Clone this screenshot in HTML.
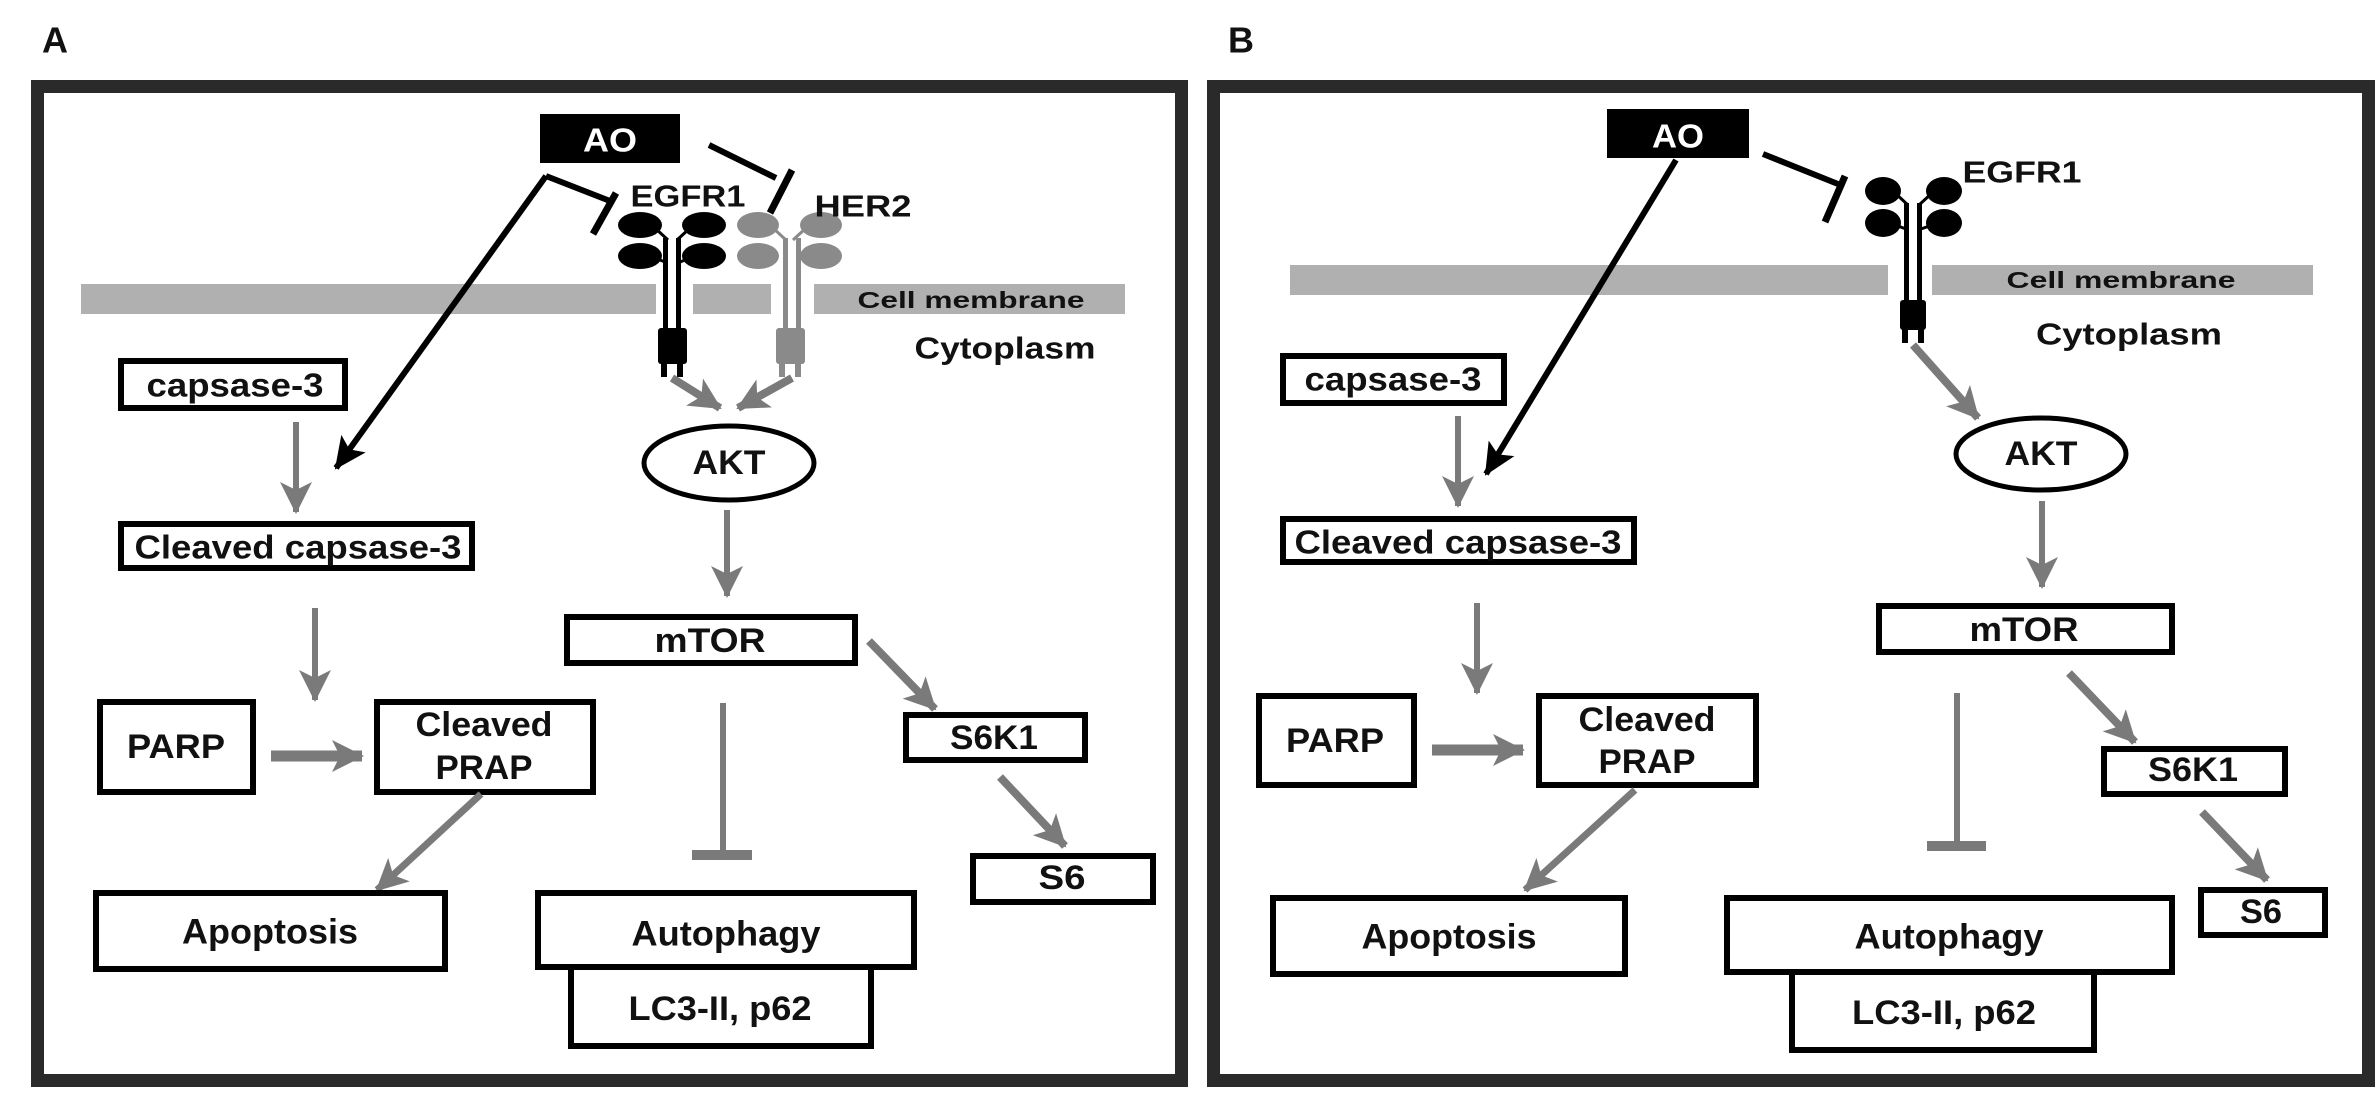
<!DOCTYPE html>
<html><head><meta charset="utf-8"><style>
html,body{margin:0;padding:0;background:#fff;}
svg{display:block;}
text{font-family:"Liberation Sans",Arial,sans-serif;font-weight:bold;fill:#111;}
</style></head><body>
<svg width="2379" height="1102" viewBox="0 0 2379 1102" xmlns="http://www.w3.org/2000/svg">
<defs>
<marker id="ga" markerUnits="userSpaceOnUse" markerWidth="34" markerHeight="32" refX="30" refY="16" orient="auto"><path d="M0,0 L32,16 L0,32 L8,16 Z" fill="#7a7a7a"/></marker>
<marker id="ba" markerUnits="userSpaceOnUse" markerWidth="34" markerHeight="30" refX="30" refY="15" orient="auto"><path d="M0,0 L32,15 L0,30 L7,15 Z" fill="#000"/></marker>
</defs>
<rect width="2379" height="1102" fill="#fff"/>

<!-- ================= PANEL A ================= -->
<text x="42" y="40" font-size="36" dominant-baseline="central">A</text>
<rect x="37.5" y="86.5" width="1144" height="994" fill="none" stroke="#2a2a2a" stroke-width="13"/>

<rect x="81" y="284" width="575" height="30" fill="#b0b0b0"/>
<rect x="693" y="284" width="78" height="30" fill="#b0b0b0"/>
<rect x="814" y="284" width="311" height="30" fill="#b0b0b0"/>
<text x="971" y="300" font-size="23" text-anchor="middle" dominant-baseline="central" textLength="227" lengthAdjust="spacingAndGlyphs">Cell membrane</text>
<text x="1005" y="348" font-size="31" text-anchor="middle" dominant-baseline="central" textLength="181" lengthAdjust="spacingAndGlyphs">Cytoplasm</text>

<g fill="#000" stroke="#000">
<ellipse cx="640" cy="225" rx="22" ry="13" stroke="none"/>
<ellipse cx="704" cy="225" rx="22" ry="13" stroke="none"/>
<ellipse cx="640" cy="256" rx="22" ry="13" stroke="none"/>
<ellipse cx="704" cy="256" rx="22" ry="13" stroke="none"/>
<path d="M655,228 L668,240 M690,228 L677,240 M655,258 L665,262 M690,258 L680,262" stroke-width="3" fill="none"/>
<rect x="663" y="238" width="5" height="92" stroke="none"/>
<rect x="676" y="238" width="5" height="92" stroke="none"/>
<rect x="658" y="328" width="29" height="36" rx="3" stroke="none"/>
<rect x="661" y="362" width="6" height="15" stroke="none"/>
<rect x="677" y="362" width="6" height="15" stroke="none"/>
</g>
<g fill="#8a8a8a" stroke="#8a8a8a">
<ellipse cx="758" cy="225" rx="21" ry="13" stroke="none"/>
<ellipse cx="821" cy="225" rx="21" ry="13" stroke="none"/>
<ellipse cx="758" cy="256" rx="21" ry="13" stroke="none"/>
<ellipse cx="821" cy="256" rx="21" ry="13" stroke="none"/>
<path d="M773,228 L786,240 M806,228 L793,240" stroke-width="3" fill="none"/>
<rect x="783" y="238" width="5" height="92" stroke="none"/>
<rect x="796" y="238" width="5" height="92" stroke="none"/>
<rect x="776" y="328" width="29" height="36" rx="3" stroke="none"/>
<rect x="779" y="362" width="6" height="15" stroke="none"/>
<rect x="795" y="362" width="6" height="15" stroke="none"/>
</g>
<text x="688" y="196" font-size="31" text-anchor="middle" dominant-baseline="central" textLength="115" lengthAdjust="spacingAndGlyphs">EGFR1</text>
<text x="863" y="206" font-size="31" text-anchor="middle" dominant-baseline="central" textLength="97" lengthAdjust="spacingAndGlyphs">HER2</text>

<rect x="540" y="114" width="140" height="49" fill="#000"/>
<text x="610" y="140" font-size="33" text-anchor="middle" dominant-baseline="central" style="fill:#fff" textLength="54" lengthAdjust="spacingAndGlyphs">AO</text>
<path d="M546,176 L610,201" stroke="#000" stroke-width="6" fill="none"/>
<path d="M616,193 L593,234" stroke="#000" stroke-width="7" fill="none"/>
<path d="M709,145 L776,178" stroke="#000" stroke-width="6" fill="none"/>
<path d="M792,170 L770,213" stroke="#000" stroke-width="7" fill="none"/>
<path d="M546,176 L336,468" stroke="#000" stroke-width="6" fill="none" marker-end="url(#ba)"/>

<path d="M672,378 L720,408" stroke="#7a7a7a" stroke-width="8" fill="none" marker-end="url(#ga)"/>
<path d="M792,378 L738,408" stroke="#7a7a7a" stroke-width="8" fill="none" marker-end="url(#ga)"/>

<ellipse cx="729" cy="463" rx="85" ry="37" fill="#fff" stroke="#000" stroke-width="5"/>
<text x="729" y="463" font-size="34" text-anchor="middle" dominant-baseline="central" textLength="73" lengthAdjust="spacingAndGlyphs">AKT</text>
<path d="M727,510 L727,596" stroke="#7a7a7a" stroke-width="6" fill="none" marker-end="url(#ga)"/>

<rect x="121" y="361" width="224" height="47" fill="#fff" stroke="#000" stroke-width="6"/>
<text x="235" y="385" font-size="33" text-anchor="middle" dominant-baseline="central" textLength="177" lengthAdjust="spacingAndGlyphs">capsase-3</text>
<path d="M296,422 L296,512" stroke="#7a7a7a" stroke-width="6" fill="none" marker-end="url(#ga)"/>
<rect x="121" y="524" width="351" height="44" fill="#fff" stroke="#000" stroke-width="6"/>
<text x="298" y="547" font-size="33" text-anchor="middle" dominant-baseline="central" textLength="327" lengthAdjust="spacingAndGlyphs">Cleaved capsase-3</text>
<path d="M315,608 L315,700" stroke="#7a7a7a" stroke-width="6" fill="none" marker-end="url(#ga)"/>

<rect x="100" y="702" width="153" height="90" fill="#fff" stroke="#000" stroke-width="6"/>
<text x="176" y="747" font-size="34" text-anchor="middle" dominant-baseline="central" textLength="98" lengthAdjust="spacingAndGlyphs">PARP</text>
<path d="M271,756 L362,756" stroke="#7a7a7a" stroke-width="11" fill="none" marker-end="url(#ga)"/>
<rect x="377" y="702" width="216" height="90" fill="#fff" stroke="#000" stroke-width="6"/>
<text x="484" y="725" font-size="34" text-anchor="middle" dominant-baseline="central" textLength="137" lengthAdjust="spacingAndGlyphs">Cleaved</text>
<text x="484" y="768" font-size="34" text-anchor="middle" dominant-baseline="central" textLength="97" lengthAdjust="spacingAndGlyphs">PRAP</text>
<path d="M481,794 L377,890" stroke="#7a7a7a" stroke-width="7" fill="none" marker-end="url(#ga)"/>
<rect x="96" y="893" width="349" height="76" fill="#fff" stroke="#000" stroke-width="6"/>
<text x="270" y="932" font-size="35" text-anchor="middle" dominant-baseline="central" textLength="176" lengthAdjust="spacingAndGlyphs">Apoptosis</text>

<rect x="567" y="617" width="288" height="46" fill="#fff" stroke="#000" stroke-width="6"/>
<text x="710" y="641" font-size="34" text-anchor="middle" dominant-baseline="central" textLength="111" lengthAdjust="spacingAndGlyphs">mTOR</text>
<path d="M723,703 L723,853" stroke="#7a7a7a" stroke-width="6" fill="none"/>
<rect x="692" y="850" width="60" height="10" fill="#7a7a7a"/>
<path d="M869,641 L935,709" stroke="#7a7a7a" stroke-width="8" fill="none" marker-end="url(#ga)"/>
<rect x="906" y="715" width="179" height="45" fill="#fff" stroke="#000" stroke-width="6"/>
<text x="994" y="738" font-size="34" text-anchor="middle" dominant-baseline="central" textLength="88" lengthAdjust="spacingAndGlyphs">S6K1</text>
<path d="M1000,777 L1065,846" stroke="#7a7a7a" stroke-width="8" fill="none" marker-end="url(#ga)"/>
<rect x="973" y="856" width="180" height="46" fill="#fff" stroke="#000" stroke-width="6"/>
<text x="1062" y="878" font-size="34" text-anchor="middle" dominant-baseline="central" textLength="47" lengthAdjust="spacingAndGlyphs">S6</text>

<rect x="571" y="966" width="300" height="80" fill="#fff" stroke="#000" stroke-width="6"/>
<text x="720" y="1009" font-size="34" text-anchor="middle" dominant-baseline="central" textLength="183" lengthAdjust="spacingAndGlyphs">LC3-II, p62</text>
<rect x="538" y="893" width="376" height="74" fill="#fff" stroke="#000" stroke-width="6"/>
<text x="726" y="934" font-size="35" text-anchor="middle" dominant-baseline="central" textLength="189" lengthAdjust="spacingAndGlyphs">Autophagy</text>

<!-- ================= PANEL B ================= -->
<text x="1228" y="40" font-size="36" dominant-baseline="central">B</text>
<rect x="1213.5" y="86.5" width="1155" height="994" fill="none" stroke="#2a2a2a" stroke-width="13"/>

<rect x="1290" y="265" width="598" height="30" fill="#b0b0b0"/>
<rect x="1932" y="265" width="381" height="30" fill="#b0b0b0"/>
<text x="2121" y="280" font-size="23" text-anchor="middle" dominant-baseline="central" textLength="229" lengthAdjust="spacingAndGlyphs">Cell membrane</text>
<text x="2129" y="334" font-size="31" text-anchor="middle" dominant-baseline="central" textLength="186" lengthAdjust="spacingAndGlyphs">Cytoplasm</text>

<g fill="#000" stroke="#000">
<ellipse cx="1883" cy="191" rx="18" ry="14" stroke="none"/>
<ellipse cx="1944" cy="191" rx="18" ry="14" stroke="none"/>
<ellipse cx="1883" cy="223" rx="18" ry="14" stroke="none"/>
<ellipse cx="1944" cy="223" rx="18" ry="14" stroke="none"/>
<path d="M1895,193 L1908,205 M1932,193 L1919,205 M1895,225 L1906,229 M1932,225 L1921,229" stroke-width="3" fill="none"/>
<rect x="1904" y="203" width="5" height="100" stroke="none"/>
<rect x="1917" y="203" width="5" height="100" stroke="none"/>
<rect x="1900" y="300" width="26" height="30" rx="3" stroke="none"/>
<rect x="1902" y="328" width="6" height="15" stroke="none"/>
<rect x="1918" y="328" width="6" height="15" stroke="none"/>
</g>
<text x="2022" y="172" font-size="31" text-anchor="middle" dominant-baseline="central" textLength="119" lengthAdjust="spacingAndGlyphs">EGFR1</text>

<rect x="1607" y="109" width="142" height="49" fill="#000"/>
<text x="1678" y="136" font-size="33" text-anchor="middle" dominant-baseline="central" style="fill:#fff" textLength="52" lengthAdjust="spacingAndGlyphs">AO</text>
<path d="M1763,154 L1838,184" stroke="#000" stroke-width="6" fill="none"/>
<path d="M1845,176 L1825,222" stroke="#000" stroke-width="7" fill="none"/>
<path d="M1676,160 L1486,474" stroke="#000" stroke-width="6" fill="none" marker-end="url(#ba)"/>

<path d="M1913,345 L1978,418" stroke="#7a7a7a" stroke-width="8" fill="none" marker-end="url(#ga)"/>
<ellipse cx="2041" cy="454" rx="85" ry="36" fill="#fff" stroke="#000" stroke-width="5"/>
<text x="2041" y="454" font-size="34" text-anchor="middle" dominant-baseline="central" textLength="73" lengthAdjust="spacingAndGlyphs">AKT</text>
<path d="M2042,501 L2042,587" stroke="#7a7a7a" stroke-width="6" fill="none" marker-end="url(#ga)"/>

<rect x="1283" y="356" width="221" height="47" fill="#fff" stroke="#000" stroke-width="6"/>
<text x="1393" y="379" font-size="33" text-anchor="middle" dominant-baseline="central" textLength="177" lengthAdjust="spacingAndGlyphs">capsase-3</text>
<path d="M1458,416 L1458,506" stroke="#7a7a7a" stroke-width="6" fill="none" marker-end="url(#ga)"/>
<rect x="1283" y="519" width="351" height="43" fill="#fff" stroke="#000" stroke-width="6"/>
<text x="1458" y="542" font-size="33" text-anchor="middle" dominant-baseline="central" textLength="327" lengthAdjust="spacingAndGlyphs">Cleaved capsase-3</text>
<path d="M1477,603 L1477,693" stroke="#7a7a7a" stroke-width="6" fill="none" marker-end="url(#ga)"/>

<rect x="1259" y="696" width="155" height="89" fill="#fff" stroke="#000" stroke-width="6"/>
<text x="1335" y="741" font-size="34" text-anchor="middle" dominant-baseline="central" textLength="98" lengthAdjust="spacingAndGlyphs">PARP</text>
<path d="M1432,750 L1523,750" stroke="#7a7a7a" stroke-width="11" fill="none" marker-end="url(#ga)"/>
<rect x="1539" y="696" width="217" height="89" fill="#fff" stroke="#000" stroke-width="6"/>
<text x="1647" y="720" font-size="34" text-anchor="middle" dominant-baseline="central" textLength="137" lengthAdjust="spacingAndGlyphs">Cleaved</text>
<text x="1647" y="762" font-size="34" text-anchor="middle" dominant-baseline="central" textLength="97" lengthAdjust="spacingAndGlyphs">PRAP</text>
<path d="M1635,790 L1525,890" stroke="#7a7a7a" stroke-width="7" fill="none" marker-end="url(#ga)"/>
<rect x="1273" y="898" width="352" height="76" fill="#fff" stroke="#000" stroke-width="6"/>
<text x="1449" y="937" font-size="35" text-anchor="middle" dominant-baseline="central" textLength="175" lengthAdjust="spacingAndGlyphs">Apoptosis</text>

<rect x="1879" y="606" width="293" height="46" fill="#fff" stroke="#000" stroke-width="6"/>
<text x="2024" y="630" font-size="34" text-anchor="middle" dominant-baseline="central" textLength="109" lengthAdjust="spacingAndGlyphs">mTOR</text>
<path d="M1957,693 L1957,843" stroke="#7a7a7a" stroke-width="6" fill="none"/>
<rect x="1927" y="841" width="59" height="10" fill="#7a7a7a"/>
<path d="M2069,673 L2135,742" stroke="#7a7a7a" stroke-width="8" fill="none" marker-end="url(#ga)"/>
<rect x="2104" y="749" width="181" height="45" fill="#fff" stroke="#000" stroke-width="6"/>
<text x="2193" y="770" font-size="34" text-anchor="middle" dominant-baseline="central" textLength="90" lengthAdjust="spacingAndGlyphs">S6K1</text>
<path d="M2202,812 L2267,880" stroke="#7a7a7a" stroke-width="8" fill="none" marker-end="url(#ga)"/>
<rect x="2201" y="890" width="124" height="45" fill="#fff" stroke="#000" stroke-width="6"/>
<text x="2261" y="912" font-size="34" text-anchor="middle" dominant-baseline="central" textLength="42" lengthAdjust="spacingAndGlyphs">S6</text>

<rect x="1792" y="971" width="302" height="79" fill="#fff" stroke="#000" stroke-width="6"/>
<text x="1944" y="1013" font-size="34" text-anchor="middle" dominant-baseline="central" textLength="184" lengthAdjust="spacingAndGlyphs">LC3-II, p62</text>
<rect x="1727" y="898" width="445" height="74" fill="#fff" stroke="#000" stroke-width="6"/>
<text x="1949" y="937" font-size="35" text-anchor="middle" dominant-baseline="central" textLength="189" lengthAdjust="spacingAndGlyphs">Autophagy</text>
</svg>
</body></html>
